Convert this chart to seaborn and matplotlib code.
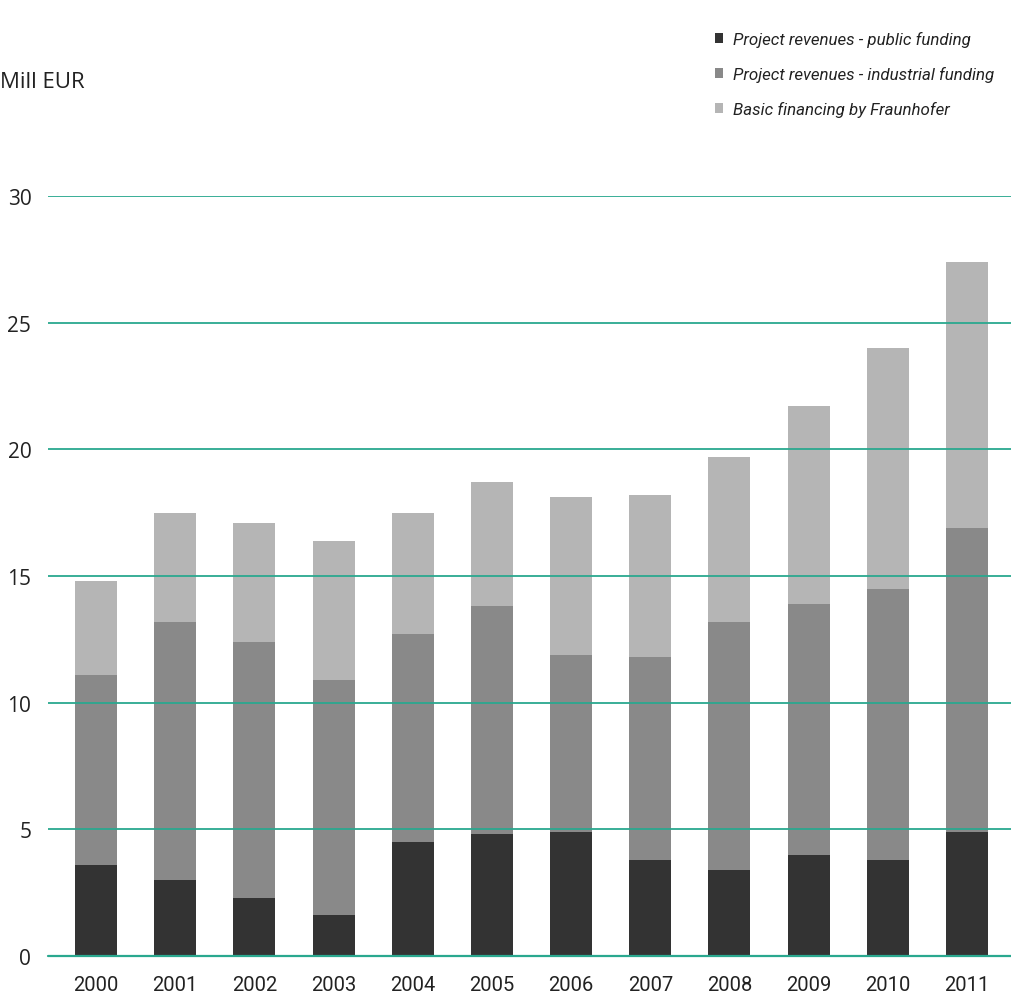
import numpy as np
import pandas as pd
import seaborn as sns
import matplotlib.pyplot as plt
from matplotlib.patches import Patch

years = ['2000', '2001', '2002', '2003', '2004', '2005',
         '2006', '2007', '2008', '2009', '2010', '2011']
# stack boundaries (Mill EUR)
public = [3.6, 3.0, 2.3, 1.6, 4.5, 4.8, 4.9, 3.8, 3.4, 4.0, 3.8, 4.9]
public_plus_industry = [11.1, 13.2, 12.4, 10.9, 12.7, 13.8, 11.9, 11.8, 13.2, 13.9, 14.5, 16.9]
total = [14.8, 17.5, 17.1, 16.4, 17.5, 18.7, 18.1, 18.2, 19.7, 21.7, 24.0, 27.4]

labels = ['Project revenues - public funding',
          'Project revenues - industrial funding',
          'Basic financing by Fraunhofer']
colors = ['#333333', '#898989', '#b5b5b5']

df = pd.DataFrame({'year': years, 'public': public,
                   'pub_ind': public_plus_industry, 'total': total})

sns.set_style('white')
plt.rcParams['font.family'] = ['Open Sans', 'DejaVu Sans']
narrow = ['Roboto', 'Open Sans', 'DejaVu Sans']

fig = plt.figure(figsize=(10.11, 10.03), dpi=100)
ax = fig.add_axes([0.0475, 0.0459, 0.9525, 0.7577])

# stacked look: draw the totals first, then overlay the lower parts
for col, c in zip(['total', 'pub_ind', 'public'], colors[::-1]):
    sns.barplot(data=df, x='year', y=col, color=c, width=0.53,
                saturation=1, linewidth=0, ax=ax, zorder=2)

ax.set_ylim(0, 30)
ax.set_xlim(-0.606, 11.556)
ax.set_yticks([0, 5, 10, 15, 20, 25, 30])
ax.yaxis.grid(True, color='#2aa88f', linewidth=1.3, zorder=3)
ax.axhline(0, color='#2aa88f', linewidth=1.6, zorder=4, clip_on=False)
ax.set_axisbelow(False)
for s in ax.spines.values():
    s.set_visible(False)
ax.set_xlabel('')
ax.set_ylabel('')
ax.tick_params(axis='both', length=0, labelsize=15, colors='#222222')
ax.tick_params(axis='y', pad=12)
ax.tick_params(axis='x', pad=14)
for t in ax.get_xticklabels():
    t.set_fontfamily(narrow)
    t.set_fontsize(14.5)

fig.text(0.0, 1 - 82 / 1003, 'Mill EUR', fontsize=16, va='center',
         ha='left', color='#222222')

handles = [Patch(facecolor=c, edgecolor='none') for c in colors]
fig.legend(handles, labels, loc='upper left',
           bbox_to_anchor=(0.692, 1 - 17 / 1003), frameon=False,
           prop={'style': 'italic', 'size': 12.2, 'family': narrow},
           handlelength=0.5, handleheight=0.5, handletextpad=0.55,
           labelspacing=1.12, labelcolor='#222222')

fig.savefig('out.png', dpi=100)
